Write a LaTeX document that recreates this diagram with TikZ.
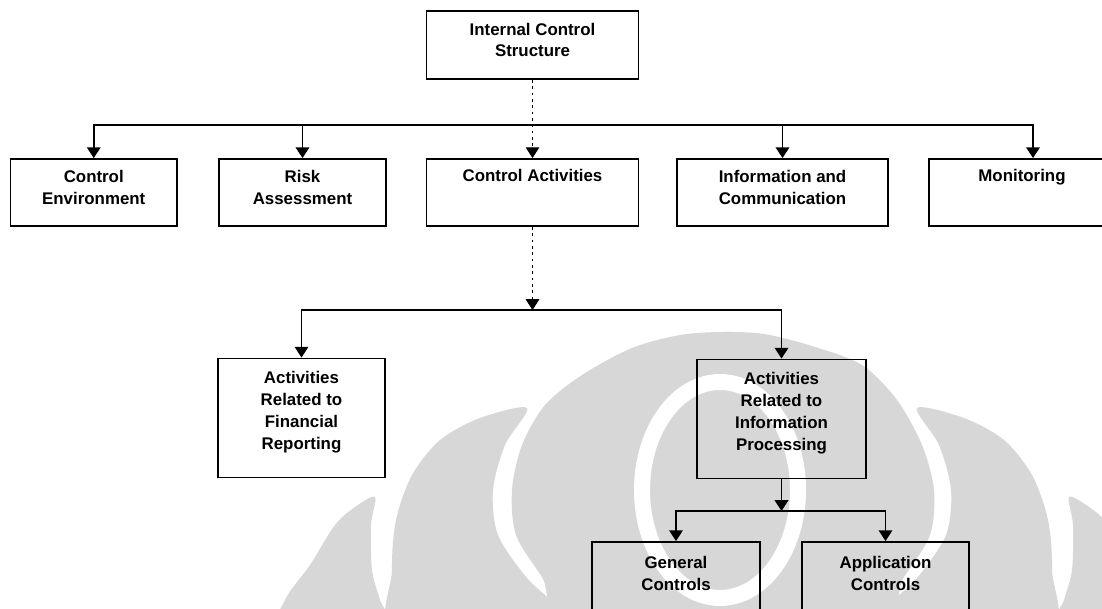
\documentclass[tikz,border=0pt]{standalone}
\usepackage{fontspec}
\setmainfont{Liberation Sans}
\usepackage{xcolor}
\usetikzlibrary{arrows.meta}
\definecolor{logogray}{RGB}{215,215,215}

\begin{document}
\begin{tikzpicture}[x=0.025cm, y=-0.025cm, every node/.style={font=\bfseries\fontsize{12}{15.6}\selectfont}]
    % Define styles
    \tikzstyle{unit} = [rectangle, draw=black, line width=1.3pt, inner sep=0pt, align=center]
    \tikzstyle{oneline} = [unit, text height=0.575cm, text depth=1.1cm]
    \tikzstyle{twoline} = [unit, text height=1.125cm, text depth=0.55cm]
    \tikzstyle{fourline} = [unit, text height=2.275cm, text depth=0.7cm]
    \tikzstyle{lowbox} = [unit, text height=1.2cm, text depth=1.05cm]
    \tikzstyle{arrow} = [line width=1.2pt, -{Triangle[width=3.4mm, length=2.7mm]}]
    \tikzstyle{dotarrow} = [line width=0.8pt, dash pattern=on 2pt off 2.5pt, -{Triangle[width=3.4mm, length=2.7mm]}]

    \useasboundingbox (0, 0) rectangle (1102, 609);
    \clip (0, 0) rectangle (1102, 609);
    \fill [white] (0, 0) rectangle (1102, 609);

    % Watermark in the background
    \fill [logogray] plot [smooth cycle] coordinates {(722,332) (764,334) (812,346) (862,365) (897,400) (922,445) (934,490) (930,535) (904,577) (860,640) (584,640) (542,577) (516,535) (512,490) (522,445) (545,405) (582,375) (632,348) (680,335)};
    \draw [white, line width=0.4cm] (720, 490) ellipse [x radius=78, y radius=108];
    \foreach \s/\o in {1/0, -1/1444} {
        \begin{scope}[shift={(\o,0)}, xscale=\s]
            \fill [logogray] plot [smooth cycle] coordinates {(277,640) (285,600) (310,565) (335,525) (355,507) (375,497) (371,525) (372,570) (380,600) (392,640)};
            \fill [logogray] plot [smooth cycle] coordinates {(527,408) (480,418) (440,440) (412,475) (396,520) (392,570) (398,640) (580,640) (560,609) (527,578) (498,535) (493,490) (505,445)};
        \end{scope}
    }

    % Top: the whole structure
    \node (ics) [unit, minimum width=5.3cm, text height=1.15cm, text depth=0.55cm] at (532.5, 45) {Internal Control\\Structure};

    % Five components
    \node (ce) [twoline, minimum width=4.16cm] at (93.75, 192.5) {Control\\Environment};
    \node (ra) [twoline, minimum width=4.175cm] at (302.5, 192.5) {Risk\\Assessment};
    \node (ca) [oneline, minimum width=5.3cm] at (532.5, 192.5) {Control Activities};
    \node (ic) [twoline, minimum width=5.275cm] at (782.5, 192.5) {Information and\\Communication};
    \node (mon) [oneline, minimum width=4.65cm] at (1022, 192.5) {Monitoring};

    % Control activities split
    \node (fr) [fourline, minimum width=4.175cm] at (301.5, 418) {Activities\\Related to\\Financial\\Reporting};
    \node (ip) [fourline, minimum width=4.225cm] at (781.5, 419) {Activities\\Related to\\Information\\Processing};

    % Information processing split
    \node (gc) [lowbox, minimum width=4.2cm] at (676, 587) {General\\Controls};
    \node (ac) [lowbox, minimum width=4.175cm] at (885.5, 587) {Application\\Controls};

    % Junctions
    \coordinate (topjoin) at (532.5, 125);
    \coordinate (midjoin) at (532.5, 310);
    \coordinate (lowjoin) at (781.5, 511);

    % Top level arrows
    \draw [dotarrow] (ics) -- (ca);
    \draw [arrow] (topjoin) -| (ce);
    \draw [arrow] (topjoin) -| (ra);
    \draw [arrow] (topjoin) -| (ic);
    \draw [arrow] (topjoin) -| ([xshift=0.275cm]mon.north);

    % Control activities arrows
    \draw [dotarrow] (ca) -- (midjoin);
    \draw [arrow] (midjoin) -| (fr);
    \draw [arrow] (midjoin) -| (ip);

    % Information processing arrows
    \draw [arrow] (ip) -- (lowjoin);
    \draw [arrow] (lowjoin) -| (gc);
    \draw [arrow] (lowjoin) -| (ac);
\end{tikzpicture}
\end{document}
